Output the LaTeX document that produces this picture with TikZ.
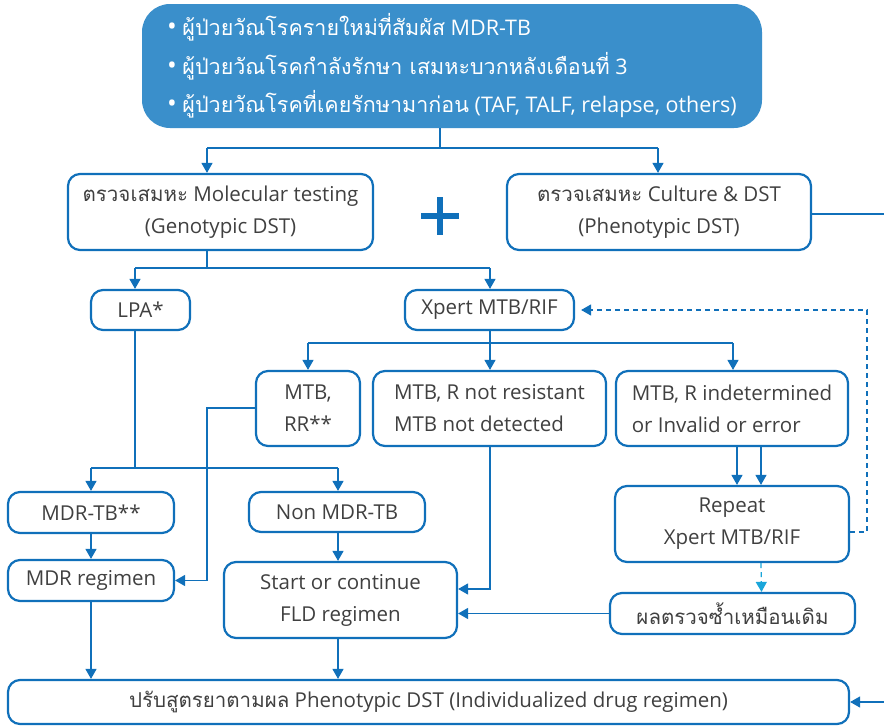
\documentclass[tikz,border=0pt]{standalone}
\usepackage{fontspec}
\setmainfont{Open Sans}
\newfontfamily\thf[Script=Thai]{Loma}
\usetikzlibrary{arrows.meta}
\definecolor{bord}{HTML}{1070BA}
\definecolor{topfill}{HTML}{3A8FCB}
\definecolor{txt}{HTML}{404040}
\definecolor{cyanline}{HTML}{1AA6DA}
\begin{document}
\begin{tikzpicture}[x=1pt,y=-1pt,
  font=\fontsize{20.5}{32}\selectfont, text=txt,
  box/.style={draw=bord, line width=2.2pt, rounded corners=12pt, fill=white, inner sep=0pt, align=center},
  ln/.style={draw=bord, line width=1.3pt},
  conn/.style={draw=bord, line width=1.3pt, -{Triangle[width=11pt,length=10pt]}},
  dashconn/.style={draw=bord, line width=1.3pt, dash pattern=on 5pt off 4pt, -{Triangle[width=11pt,length=10pt]}},
  cyanconn/.style={draw=cyanline, line width=1.3pt, dash pattern=on 5pt off 4pt, -{Triangle[width=11pt,length=10pt]}}]
\useasboundingbox[fill=white] (0,0) rectangle (884,726);

% nodes
\node[fill=topfill, rounded corners=28pt, minimum width=620pt, minimum height=124pt, inner sep=0pt,
      text=white, align=left, font=\fontsize{21.5}{38.5}\selectfont] (top) at (452,66)
  {{\fontsize{26}{38.5}\selectfont•} {\thf ผู้ป่วยวัณโรครายใหม่ที่สัมผัส} MDR-TB\\
   {\fontsize{26}{38.5}\selectfont•} {\thf ผู้ป่วยวัณโรคกำลังรักษา เสมหะบวกหลังเดือนที่} 3\\
   {\fontsize{26}{38.5}\selectfont•} {\thf ผู้ป่วยวัณโรคที่เคยรักษามาก่อน} (TAF, TALF, relapse, others)};
\node[box, minimum width=305pt, minimum height=76pt] (mol) at (220.5,212)
  {{\thf ตรวจเสมหะ} Molecular testing\\(Genotypic DST)};
\node[box, minimum width=304pt, minimum height=76pt] (cult) at (659,212)
  {{\thf ตรวจเสมหะ} Culture \& DST\\(Phenotypic DST)};
\node[box, minimum width=99pt, minimum height=40pt] (lpa) at (140.5,310) {LPA*};
\node[box, minimum width=169pt, minimum height=40pt] (xpert) at (489.5,310) {Xpert MTB/RIF};
\node[box, minimum width=104pt, minimum height=75pt] (rr) at (308,408.5) {MTB,\\RR**};
\node[box, minimum width=233pt, minimum height=75pt, align=left] (nr) at (489.5,408.5)
  {MTB, R not resistant\\MTB not detected};
\node[box, minimum width=232pt, minimum height=75pt, align=left] (ind) at (732,408.5)
  {MTB, R indetermined\\or Invalid or error};
\node[box, minimum width=166pt, minimum height=41pt] (mdrtb) at (91,512.5) {MDR-TB**};
\node[box, minimum width=176pt, minimum height=40pt] (nonmdr) at (337,512) {Non MDR-TB};
\node[box, minimum width=166pt, minimum height=41pt] (mdrreg) at (91,580.5) {MDR regimen};
\node[box, minimum width=233pt, minimum height=76pt] (start) at (340.5,600)
  {Start or continue\\FLD regimen};
\node[box, minimum width=234pt, minimum height=76pt] (repeat) at (732,524)
  {Repeat\\Xpert MTB/RIF};
\node[box, minimum width=245pt, minimum height=41pt] (same) at (732.5,613.5)
  {{\thf ผลตรวจซ้ำเหมือนเดิม}};
\node[box, minimum width=841pt, minimum height=44pt] (final) at (428.5,702)
  {{\thf ปรับสูตรยาตามผล} Phenotypic DST (Individualized drug regimen)};

% plus sign
\fill[bord] (421,213) rectangle (459,219);
\fill[bord] (437,197) rectangle (443,235);

% junction coordinates
\coordinate (t0) at (440,148);
\coordinate (a1) at (207,148);
\coordinate (a2) at (658,148);
\coordinate (b0) at (207,268);
\coordinate (b1) at (135,268);
\coordinate (b2) at (490,268);
\coordinate (x0) at (490,343);
\coordinate (x1) at (308,343);
\coordinate (x2) at (733,343);
\coordinate (c1) at (207,408);
\coordinate (d0) at (135,468);
\coordinate (d1) at (91,468);
\coordinate (d2) at (338,468);
\coordinate (f1) at (867,532);
\coordinate (f2) at (867,310);
\coordinate (g1) at (890,214);
\coordinate (g2) at (890,702);

% connectors
\draw[ln] (t0 |- top.south) -- (t0);
\draw[ln] (a1) -- (a2);
\draw[conn] (a1) -- (a1 |- mol.north);
\draw[conn] (a2) -- (a2 |- cult.north);

\draw[ln] (b0 |- mol.south) -- (b0);
\draw[ln] (b1) -- (b2);
\draw[conn] (b1) -- (b1 |- lpa.north);
\draw[conn] (b2) -- (b2 |- xpert.north);

\draw[ln] (x0 |- xpert.south) -- (x0);
\draw[ln] (x1) -- (x2);
\draw[conn] (x1) -- (x1 |- rr.north);
\draw[conn] (x0) -- (x0 |- nr.north);
\draw[conn] (x2) -- (x2 |- ind.north);

\draw[conn] (rr.west |- c1) -- (c1) |- (mdrreg.east);

\draw[ln] (d0 |- lpa.south) -- (d0);
\draw[ln] (d1) -- (d2);
\draw[conn] (d1) -- (d1 |- mdrtb.north);
\draw[conn] (d2) -- (d2 |- nonmdr.north);

\draw[conn] (mdrtb.south) -- (mdrreg.north);
\draw[conn] (d2 |- nonmdr.south) -- (d2 |- start.north);
\draw[conn] (x0 |- nr.south) |- ([yshift=11pt]start.east);
\draw[conn] (same.west) -- (same.west -| start.east);

\draw[conn] ([xshift=5pt]ind.south) -- ([xshift=5pt]repeat.north);
\draw[conn] ([xshift=29pt]ind.south) -- ([xshift=29pt]repeat.north);
\draw[cyanconn] ([xshift=29pt]repeat.south) -- ([xshift=29pt]same.north);
\draw[dashconn, shorten >=6pt] (repeat.east |- f1) -- (f1) -- (f2) -- (xpert.east);

\draw[conn] (mdrreg.south) -- (mdrreg.south |- final.north);
\draw[conn] (d2 |- start.south) -- (d2 |- final.north);
\draw[conn] (cult.east |- g1) -- (g1) -- (g2) -- (final.east);
\end{tikzpicture}
\end{document}
